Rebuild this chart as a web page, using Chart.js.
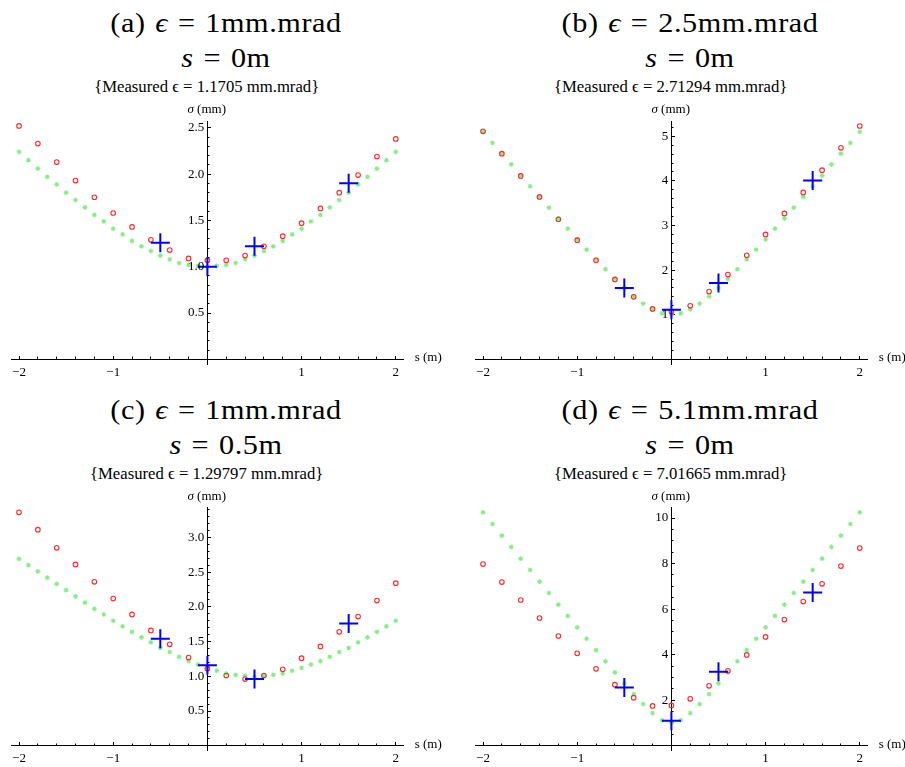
<!DOCTYPE html>
<html>
<head>
<meta charset="utf-8">
<script src="https://cdn.jsdelivr.net/npm/chart.js@4.4.0/dist/chart.umd.min.js"></script>
<style>
  body { margin: 0; width: 905px; height: 767px; position: relative; overflow: hidden; background: #fff;
         font-family: "Liberation Serif", "Times New Roman", serif; color: #000; }
  canvas { position: absolute; }
  .lbl { position: absolute; white-space: nowrap; line-height: 1; transform: translate(-50%, -50%); }
  .title { font-size: 27px; letter-spacing: 0.5px; word-spacing: 1.5px; transform: translate(-50%, -50%) scaleX(1.12); }
  .sub { font-size: 16.7px; }
  .axis { font-size: 13px; }
  .xlab { transform: translate(0, -50%); }
</style>
</head>
<body>
<canvas id="chart-a"></canvas>
<canvas id="chart-b"></canvas>
<canvas id="chart-c"></canvas>
<canvas id="chart-d"></canvas>
<script>
// positions along the beam (m)
const S_FINE = [-2, -1.9, -1.8, -1.7, -1.6, -1.5, -1.4, -1.3, -1.2, -1.1, -1, -0.9, -0.8, -0.7, -0.6, -0.5, -0.4, -0.3, -0.2, -0.1,
  0, 0.1, 0.2, 0.3, 0.4, 0.5, 0.6, 0.7, 0.8, 0.9, 1, 1.1, 1.2, 1.3, 1.4, 1.5, 1.6, 1.7, 1.8, 1.9, 2];
const S_COARSE = [-2, -1.8, -1.6, -1.4, -1.2, -1, -0.8, -0.6, -0.4, -0.2, 0, 0.2, 0.4, 0.6, 0.8, 1, 1.2, 1.4, 1.6, 1.8, 2];
const S_MEAS = [-0.5, 0, 0.5, 1.5];

const X_TICKS = [-2, -1, 0, 1, 2];
const X_TICK_LABELS = ["\u22122", "\u22121", "", "1", "2"];

// (a) eps = 1, s = 0
const A_MODEL = [2.24, 2.15, 2.06, 1.97, 1.89, 1.80, 1.72, 1.64, 1.56, 1.49, 1.41, 1.35, 1.28, 1.22, 1.17, 1.12, 1.08, 1.04, 1.02, 1.01,
  1.00, 1.01, 1.02, 1.04, 1.08, 1.12, 1.17, 1.22, 1.28, 1.35, 1.41, 1.49, 1.56, 1.64, 1.72, 1.80, 1.89, 1.97, 2.06, 2.15, 2.24];
const A_SIM = [2.52, 2.33, 2.13, 1.93, 1.75, 1.58, 1.43, 1.29, 1.18, 1.09, 1.07, 1.07, 1.12, 1.22, 1.33, 1.47, 1.63, 1.80, 1.99, 2.19, 2.38];
const A_MEAS = [1.26, 1.00, 1.22, 1.90];
const A_Y_TICKS = [0.5, 1, 1.5, 2, 2.5];
const A_Y_LABELS = ["0.5", "1.0", "1.5", "2.0", "2.5"];

// (b) eps = 2.5, s = 0
const B_MODEL = [5.10, 4.85, 4.61, 4.37, 4.12, 3.88, 3.64, 3.40, 3.16, 2.93, 2.69, 2.46, 2.24, 2.02, 1.80, 1.60, 1.41, 1.25, 1.12, 1.03,
  1.00, 1.03, 1.12, 1.25, 1.41, 1.60, 1.80, 2.02, 2.24, 2.46, 2.69, 2.93, 3.16, 3.40, 3.64, 3.88, 4.12, 4.37, 4.61, 4.85, 5.10];
const B_SIM = [5.11, 4.61, 4.11, 3.64, 3.14, 2.67, 2.22, 1.79, 1.40, 1.13, 1.07, 1.20, 1.52, 1.90, 2.33, 2.80, 3.27, 3.74, 4.24, 4.74, 5.23];
const B_MEAS = [1.60, 1.11, 1.71, 4.01];
const B_Y_TICKS = [1, 2, 3, 4, 5];
const B_Y_LABELS = ["1", "2", "3", "4", "5"];

// (c) eps = 1, s = 0.5
const C_MODEL = [2.69, 2.60, 2.51, 2.42, 2.33, 2.24, 2.15, 2.06, 1.97, 1.89, 1.80, 1.72, 1.64, 1.56, 1.49, 1.41, 1.35, 1.28, 1.22, 1.17,
  1.12, 1.08, 1.04, 1.02, 1.01, 1.00, 1.01, 1.02, 1.04, 1.08, 1.12, 1.17, 1.22, 1.28, 1.35, 1.41, 1.49, 1.56, 1.64, 1.72, 1.80];
const C_SIM = [3.36, 3.11, 2.85, 2.61, 2.36, 2.12, 1.89, 1.66, 1.46, 1.27, 1.11, 1.01, 0.96, 1.01, 1.10, 1.26, 1.43, 1.64, 1.86, 2.09, 2.34];
const C_MEAS = [1.54, 1.16, 0.96, 1.76];
const C_Y_TICKS = [0.5, 1, 1.5, 2, 2.5, 3];
const C_Y_LABELS = ["0.5", "1.0", "1.5", "2.0", "2.5", "3.0"];

// (d) eps = 5.1, s = 0
const D_MODEL = [10.25, 9.74, 9.23, 8.73, 8.22, 7.72, 7.21, 6.71, 6.20, 5.70, 5.20, 4.70, 4.20, 3.71, 3.22, 2.74, 2.27, 1.83, 1.43, 1.12,
  1.00, 1.12, 1.43, 1.83, 2.27, 2.74, 3.22, 3.71, 4.20, 4.70, 5.20, 5.70, 6.20, 6.71, 7.21, 7.72, 8.22, 8.73, 9.23, 9.74, 10.25];
const D_SIM = [7.98, 7.19, 6.40, 5.61, 4.82, 4.06, 3.38, 2.68, 2.11, 1.75, 1.77, 2.06, 2.63, 3.29, 3.99, 4.78, 5.54, 6.33, 7.11, 7.89, 8.68];
const D_MEAS = [2.56, 1.10, 3.25, 6.73];
const D_Y_TICKS = [2, 4, 6, 8, 10];
const D_Y_LABELS = ["2", "4", "6", "8", "10"];

const PANELS = [
  { id: "chart-a", title: "(a) <i>\u03f5</i> = 1mm.mrad", title2: "<i>s</i> = 0m", measured: "1.1705",
    model: A_MODEL, sim: A_SIM, meas: A_MEAS, yTicks: A_Y_TICKS, yLabels: A_Y_LABELS, yMin: -0.05, yMax: 2.57, minor: 0.1, ox: 206.7, oy: 359.3 },
  { id: "chart-b", title: "(b) <i>\u03f5</i> = 2.5mm.mrad", title2: "<i>s</i> = 0m", measured: "2.71294",
    model: B_MODEL, sim: B_SIM, meas: B_MEAS, yTicks: B_Y_TICKS, yLabels: B_Y_LABELS, yMin: -0.105, yMax: 5.335, minor: 0.2, ox: 670.7, oy: 359.3 },
  { id: "chart-c", title: "(c) <i>\u03f5</i> = 1mm.mrad", title2: "<i>s</i> = 0.5m", measured: "1.29797",
    model: C_MODEL, sim: C_SIM, meas: C_MEAS, yTicks: C_Y_TICKS, yLabels: C_Y_LABELS, yMin: -0.067, yMax: 3.427, minor: 0.1, ox: 206.7, oy: 745.7 },
  { id: "chart-d", title: "(d) <i>\u03f5</i> = 5.1mm.mrad", title2: "<i>s</i> = 0m", measured: "7.01665",
    model: D_MODEL, sim: D_SIM, meas: D_MEAS, yTicks: D_Y_TICKS, yLabels: D_Y_LABELS, yMin: -0.205, yMax: 10.455, minor: 0.5, ox: 670.7, oy: 745.7 },
];

const HALF_W = 196.6;  // plot half width in px (x from -2.08 to 2.08)
const ABOVE = 238;     // x axis to top of plot area
const BELOW = 4.7;     // x axis to bottom of plot area

function pairs(xs, ys) {
  return xs.map((x, i) => ({ x: x, y: ys[i] }));
}

function stepTicks(from, to, step) {
  const out = [];
  for (let v = from; v <= to + 1e-9; v += step) out.push({ value: Math.round(v * 1000) / 1000 });
  return out;
}

function addLabel(cls, html, x, y) {
  const el = document.createElement("div");
  el.className = "lbl " + cls;
  el.innerHTML = html;
  el.style.left = x + "px";
  el.style.top = y + "px";
  document.body.appendChild(el);
}

function createChart(p) {
  const canvas = document.getElementById(p.id);
  const left = Math.round(p.ox - 207);
  const top = Math.round(p.oy - 260);
  const width = left === 0 ? 452 : 905 - left;
  const height = 290;
  canvas.width = width;
  canvas.height = height;
  canvas.style.left = left + "px";
  canvas.style.top = top + "px";

  addLabel("title", p.title, p.ox + 19, p.oy - 336);
  addLabel("title", p.title2, p.ox + 19, p.oy - 301);
  addLabel("sub", "{Measured \u03f5 = " + p.measured + " mm.mrad}", p.ox, p.oy - 272);
  addLabel("axis", "<i>\u03c3</i> (mm)", p.ox, p.oy - 251);
  addLabel("axis xlab", "s (m)", p.ox + 208, p.oy - 3);

  const axisFont = { family: "'Liberation Serif', 'Times New Roman', serif", size: 13 };

  const options = {
    responsive: false,
    animation: false,
    events: [],
    layout: {
      padding: {
        left: p.ox - HALF_W - left,
        right: left + width - (p.ox + HALF_W),
        top: p.oy - ABOVE - top,
        bottom: top + height - (p.oy + BELOW),
      },
    },
    scales: {
      x: {
        type: "linear", min: -2.08, max: 2.08, position: { y: 0 },
        border: { color: "#000", width: 1 },
        grid: { drawOnChartArea: false, tickLength: -4, color: "#000" },
        ticks: { padding: 9, font: axisFont, color: "#000", autoSkip: false, maxRotation: 0,
                 callback: (v, i) => X_TICK_LABELS[i] },
        afterBuildTicks: (axis) => { axis.ticks = X_TICKS.map((v) => ({ value: v })); },
      },
      xMinor: {
        type: "linear", min: -2.08, max: 2.08, position: { y: 0 },
        border: { display: false },
        grid: { drawOnChartArea: false, tickLength: -2.5, color: "#000" },
        ticks: { display: false },
        afterBuildTicks: (axis) => { axis.ticks = stepTicks(-2, 2, 0.2); },
      },
      y: {
        type: "linear", min: p.yMin, max: p.yMax, position: { x: 0 },
        border: { color: "#000", width: 1 },
        grid: { drawOnChartArea: false, tickLength: -4, color: "#000" },
        ticks: { padding: 6, font: axisFont, color: "#000", autoSkip: false, z: 1,
                 callback: (v, i) => p.yLabels[i] + " " },
        afterBuildTicks: (axis) => { axis.ticks = p.yTicks.map((v) => ({ value: v })); },
      },
      yMinor: {
        type: "linear", min: p.yMin, max: p.yMax, position: { x: 0 },
        border: { display: false },
        grid: { drawOnChartArea: false, tickLength: -2.5, color: "#000" },
        ticks: { display: false },
        afterBuildTicks: (axis) => { axis.ticks = stepTicks(p.minor, p.yMax, p.minor); },
      },
    },
    plugins: {
      legend: { display: false },
      tooltip: { enabled: false },
    },
  };

  return new Chart(canvas.getContext("2d"), {
    type: "scatter",
    data: {
      datasets: [
        { label: "measured", data: pairs(S_MEAS, p.meas), pointStyle: "cross", pointRadius: 9.5,
          borderColor: "#0000ff", borderWidth: 2, clip: false },
        { label: "simulated", data: pairs(S_COARSE, p.sim), pointStyle: "circle", pointRadius: 2.3,
          borderColor: "#ff2a2a", backgroundColor: "rgba(255,255,255,0)", borderWidth: 1.1, clip: false },
        { label: "model", data: pairs(S_FINE, p.model), pointStyle: "star", pointRadius: 2.4,
          borderColor: "#86ee86", borderWidth: 1.1, clip: false },
      ],
    },
    options: options,
  });
}

PANELS.forEach(createChart);
</script>
</body>
</html>
